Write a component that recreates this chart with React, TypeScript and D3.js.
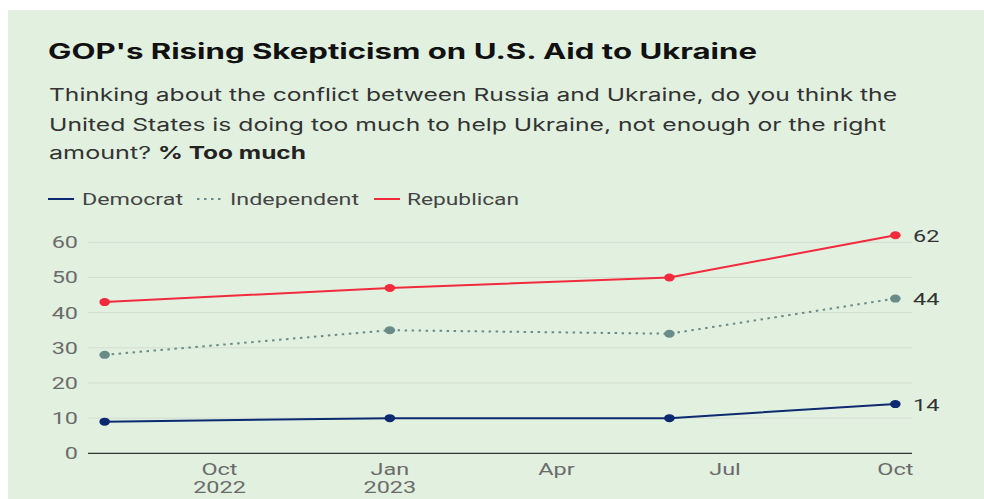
import React from "react";
import * as d3 from "d3";

const pollDates = ["2022-07-31", "2023-01-01", "2023-06-01", "2023-10-01"];
const democrat = [9, 10, 10, 14];
const independent = [28, 35, 34, 44];
const republican = [43, 47, 50, 62];
const seriesNames = ["Democrat", "Independent", "Republican"];
const xTickDates = ["2022-10-01", "2023-01-01", "2023-04-01", "2023-07-01", "2023-10-01"];
const xTickLabels = [["Oct", "2022"], ["Jan", "2023"], ["Apr"], ["Jul"], ["Oct"]];
const yTicks = [0, 10, 20, 30, 40, 50, 60];

const W = 984;
const H = 499;
const parse = d3.utcParse("%Y-%m-%d");

export default function App() {
  const x = d3
    .scaleUtc()
    .domain([parse("2022-07-22")!, parse("2023-10-10")!])
    .range([88, 912]);
  const y = d3.scaleLinear().domain([0, 60]).range([453.3, 242.3]);

  const series = [
    { name: seriesNames[0], values: democrat, color: "#0b2a6f", dash: undefined as string | undefined },
    { name: seriesNames[1], values: independent, color: "#6a8c88", dash: "2.5,4.5" },
    { name: seriesNames[2], values: republican, color: "#f22a3c", dash: undefined },
  ];

  const line = d3
    .line<[Date, number]>()
    .x((d) => x(d[0]))
    .y((d) => y(d[1]));

  const sx = 1.38;
  const legendPos = [
    { lx: 48, tx: 82, tEnd: 183 },
    { lx: 197, tx: 230, tEnd: 359 },
    { lx: 374, tx: 407, tEnd: 519 },
  ];

  return (
    <svg
      width={W}
      height={H}
      style={{ position: "absolute", left: 0, top: 0 }}
      fontFamily="Roboto, sans-serif"
    >
      <rect x={0} y={0} width={W} height={H} fill="#ffffff" />
      <rect x={8} y={10} width={W} height={H} fill="#e2f0e0" />

      <text
        x={48}
        y={59}
        fontFamily="Inter, sans-serif"
        fontWeight={700}
        fontSize={21}
        fill="#111"
        textLength={709}
        lengthAdjust="spacingAndGlyphs"
      >
        GOP's Rising Skepticism on U.S. Aid to Ukraine
      </text>
      <g fontFamily="Inter, sans-serif" fontSize={17.5} fill="#333">
        <text x={49} y={101} textLength={848} lengthAdjust="spacingAndGlyphs">
          Thinking about the conflict between Russia and Ukraine, do you think the
        </text>
        <text x={49} y={131} textLength={837} lengthAdjust="spacingAndGlyphs">
          United States is doing too much to help Ukraine, not enough or the right
        </text>
        <text x={49} y={159} textLength={102} lengthAdjust="spacingAndGlyphs">
          amount?
        </text>
        <text x={158} y={159} fontWeight={700} fill="#222" textLength={148} lengthAdjust="spacingAndGlyphs">
          % Too much
        </text>
      </g>

      {series.map((s, i) => (
        <g key={s.name}>
          <line
            x1={legendPos[i].lx}
            x2={legendPos[i].lx + 26}
            y1={199}
            y2={199}
            stroke={s.color}
            strokeWidth={2}
            strokeDasharray={s.dash}
          />
          <text
            x={legendPos[i].tx}
            y={204.5}
            fontSize={16}
            fill="#444"
            textLength={legendPos[i].tEnd - legendPos[i].tx}
            lengthAdjust="spacingAndGlyphs"
          >
            {s.name}
          </text>
        </g>
      ))}

      {yTicks.map((t) => (
        <g key={t}>
          {t !== 0 && (
            <line x1={88} x2={912} y1={y(t)} y2={y(t)} stroke="#d3ddd1" strokeWidth={1} />
          )}
          <g transform={`translate(78,${y(t) + 6}) scale(${sx},1)`}>
            <text textAnchor="end" fontSize={17} fill="#6b6b6b">
              {t}
            </text>
          </g>
        </g>
      ))}
      <line x1={88} x2={912} y1={y(0)} y2={y(0)} stroke="#333" strokeWidth={1.3} />

      {xTickDates.map((d, i) => (
        <g key={d} transform={`translate(${x(parse(d)!)},0)`}>
          {xTickLabels[i].map((lab, j) => (
            <g key={j} transform={`translate(0,${475 + j * 18}) scale(${sx},1)`}>
              <text textAnchor="middle" fontSize={17} fill="#6b6b6b">
                {lab}
              </text>
            </g>
          ))}
        </g>
      ))}

      {series.map((s) => {
        const pts: [Date, number][] = s.values.map((v, i) => [parse(pollDates[i])!, v]);
        const last = pts[pts.length - 1];
        return (
          <g key={s.name}>
            <path
              d={line(pts) || ""}
              fill="none"
              stroke={s.color}
              strokeWidth={2}
              strokeDasharray={s.dash}
            />
            {pts.map((p, i) => (
              <ellipse key={i} cx={x(p[0])} cy={y(p[1])} rx={5.3} ry={4} fill={s.color} />
            ))}
            <g transform={`translate(913,${y(last[1]) + 6.5}) scale(${sx},1)`}>
              <text fontSize={17} fill="#333">
                {last[1]}
              </text>
            </g>
          </g>
        );
      })}
    </svg>
  );
}
